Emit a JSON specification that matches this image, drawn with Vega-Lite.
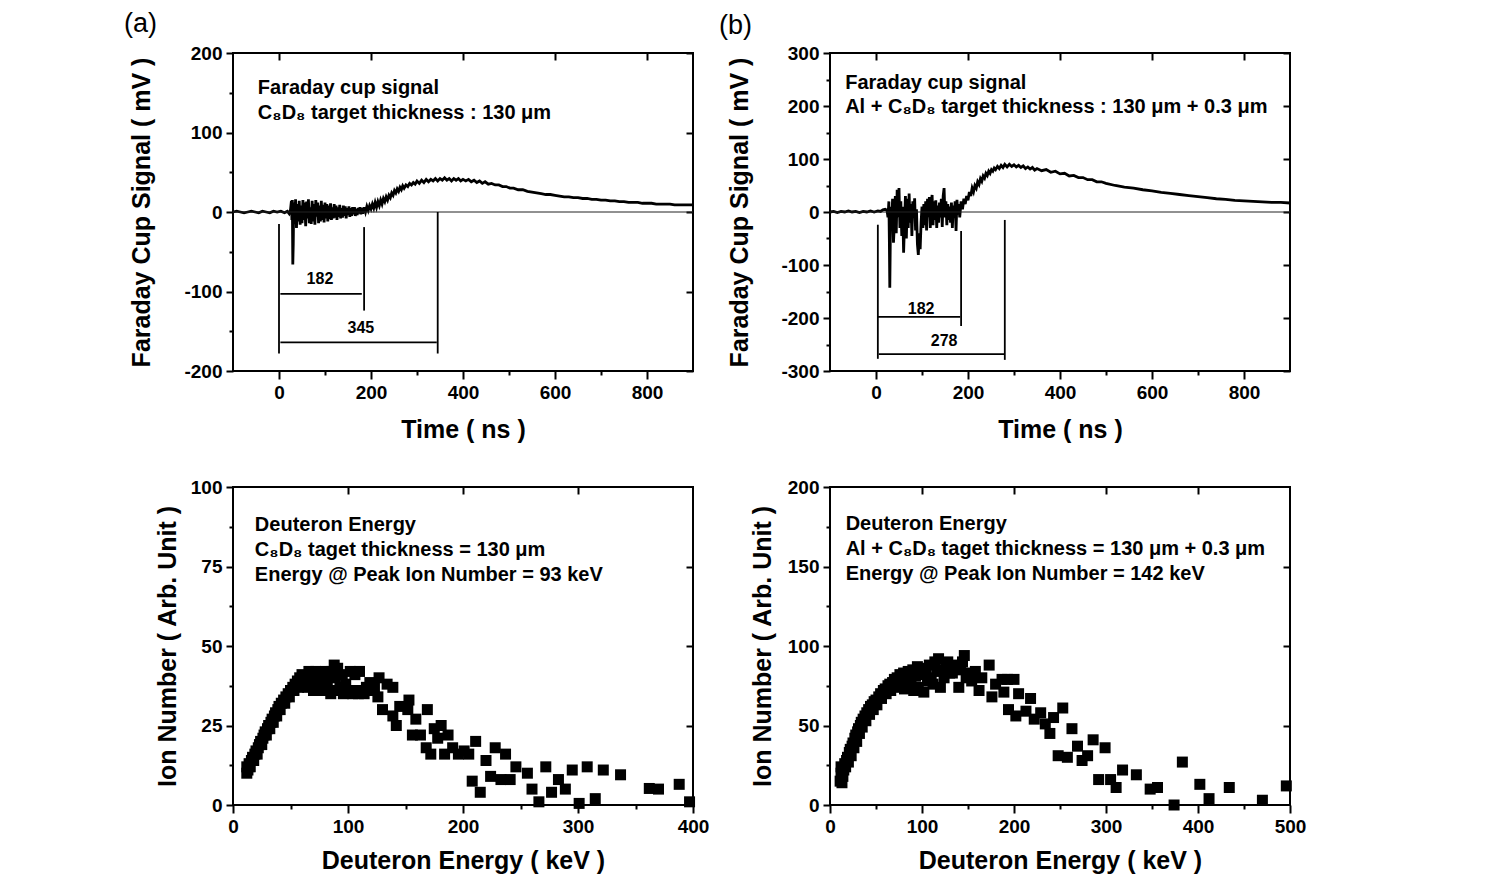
{
 "$schema": "https://vega.github.io/schema/vega-lite/v6.json",
 "padding": {"left": 123, "top": 9, "right": 5, "bottom": 5},
 "background": "white",
 "columns": 2,
 "spacing": {"row": 116, "column": 137},
 "bounds": "flush",
 "datasets": {
  "traceA": [
   {"t":-100,"v":0},{"t":-92,"v":1},{"t":-84,"v":0},{"t":-76,"v":-1},{"t":-68,"v":0},{"t":-60,"v":1},{"t":-52,"v":0},{"t":-44,"v":-1},{"t":-36,"v":1},{"t":-28,"v":0},{"t":-20,"v":-1},{"t":-12,"v":1},{"t":-4,"v":0},{"t":4,"v":1},{"t":12,"v":-1},{"t":18,"v":1},{"t":22,"v":-2},{"t":25,"v":3},{"t":27,"v":14},{"t":28,"v":-10},{"t":29,"v":15},{"t":30,"v":-66},{"t":31,"v":-40},{"t":32,"v":12},{"t":34,"v":-15},{"t":36,"v":16},{"t":38,"v":-20},{"t":40,"v":10},{"t":42,"v":-12},{"t":44,"v":14},{"t":46,"v":-16},{"t":48,"v":8},{"t":50,"v":-14},{"t":52,"v":15},{"t":54,"v":-10},{"t":56,"v":12},{"t":58,"v":-18},{"t":60,"v":13},{"t":62,"v":-8},{"t":64,"v":16},{"t":66,"v":-14},{"t":68,"v":6},{"t":70,"v":-15},{"t":72,"v":14},{"t":74,"v":-12},{"t":76,"v":10},{"t":78,"v":-16},{"t":80,"v":15},{"t":82,"v":-6},{"t":84,"v":12},{"t":86,"v":-14},{"t":88,"v":8},{"t":90,"v":-12},{"t":92,"v":14},{"t":94,"v":-10},{"t":96,"v":9},{"t":98,"v":-13},{"t":100,"v":12},{"t":102,"v":-8},{"t":104,"v":10},{"t":106,"v":-12},{"t":108,"v":8},{"t":110,"v":-9},{"t":112,"v":11},{"t":114,"v":-10},{"t":116,"v":6},{"t":118,"v":-8},{"t":120,"v":10},{"t":122,"v":-7},{"t":124,"v":8},{"t":126,"v":-10},{"t":128,"v":6},{"t":130,"v":-6},{"t":132,"v":9},{"t":134,"v":-8},{"t":136,"v":5},{"t":138,"v":-7},{"t":140,"v":8},{"t":142,"v":-5},{"t":144,"v":7},{"t":146,"v":-8},{"t":148,"v":5},{"t":150,"v":-4},{"t":152,"v":7},{"t":154,"v":-6},{"t":156,"v":5},{"t":158,"v":-5},{"t":160,"v":6},{"t":162,"v":-3},{"t":164,"v":6},{"t":166,"v":-5},{"t":168,"v":4},{"t":170,"v":-4},{"t":172,"v":5},{"t":174,"v":-2},{"t":176,"v":6},{"t":178,"v":-3},{"t":180,"v":5},{"t":182,"v":-2},{"t":185,"v":6},{"t":188,"v":0},{"t":191,"v":7},{"t":194,"v":2},{"t":197,"v":8},{"t":200,"v":4},{"t":203,"v":10},{"t":206,"v":5},{"t":209,"v":12},{"t":212,"v":6},{"t":215,"v":13},{"t":218,"v":8},{"t":221,"v":15},{"t":224,"v":10},{"t":227,"v":17},{"t":230,"v":13},{"t":233,"v":19},{"t":236,"v":15},{"t":239,"v":21},{"t":242,"v":18},{"t":245,"v":24},{"t":248,"v":21},{"t":251,"v":27},{"t":254,"v":24},{"t":257,"v":29},{"t":260,"v":26},{"t":263,"v":31},{"t":266,"v":28},{"t":269,"v":33},{"t":272,"v":30},{"t":276,"v":34},{"t":280,"v":32},{"t":284,"v":36},{"t":288,"v":34},{"t":292,"v":37},{"t":296,"v":35},{"t":300,"v":39},{"t":305,"v":36},{"t":310,"v":40},{"t":315,"v":37},{"t":320,"v":41},{"t":325,"v":38},{"t":330,"v":41},{"t":335,"v":39},{"t":340,"v":42},{"t":345,"v":39},{"t":350,"v":42},{"t":355,"v":40},{"t":360,"v":43},{"t":365,"v":40},{"t":370,"v":42},{"t":375,"v":39},{"t":380,"v":42},{"t":385,"v":40},{"t":390,"v":42},{"t":395,"v":39},{"t":400,"v":41},{"t":406,"v":39},{"t":412,"v":41},{"t":418,"v":38},{"t":424,"v":40},{"t":430,"v":37},{"t":436,"v":39},{"t":442,"v":36},{"t":448,"v":38},{"t":455,"v":35},{"t":462,"v":36},{"t":470,"v":34},{"t":478,"v":34},{"t":486,"v":32},{"t":494,"v":32},{"t":502,"v":30},{"t":510,"v":30},{"t":520,"v":28},{"t":530,"v":28},{"t":540,"v":26},{"t":550,"v":25},{"t":560,"v":24},{"t":570,"v":23},{"t":580,"v":22},{"t":590,"v":22},{"t":600,"v":21},{"t":610,"v":20},{"t":620,"v":19},{"t":630,"v":19},{"t":640,"v":18},{"t":650,"v":18},{"t":660,"v":17},{"t":670,"v":17},{"t":680,"v":16},{"t":690,"v":16},{"t":700,"v":15},{"t":710,"v":15},{"t":720,"v":14},{"t":730,"v":14},{"t":740,"v":13},{"t":750,"v":13},{"t":760,"v":12},{"t":770,"v":12},{"t":780,"v":12},{"t":790,"v":11},{"t":800,"v":11},{"t":810,"v":11},{"t":820,"v":10},{"t":830,"v":10},{"t":840,"v":10},{"t":850,"v":10},{"t":860,"v":9},{"t":870,"v":9},{"t":880,"v":9},{"t":890,"v":9},{"t":900,"v":9}
  ],
  "traceB": [
   {"t":-100,"v":0},{"t":-92,"v":1},{"t":-84,"v":-1},{"t":-76,"v":1},{"t":-68,"v":0},{"t":-60,"v":2},{"t":-52,"v":0},{"t":-44,"v":1},{"t":-36,"v":-1},{"t":-28,"v":1},{"t":-20,"v":0},{"t":-12,"v":2},{"t":-4,"v":0},{"t":4,"v":2},{"t":10,"v":1},{"t":15,"v":4},{"t":20,"v":5},{"t":24,"v":3},{"t":26,"v":-10},{"t":28,"v":20},{"t":29,"v":-50},{"t":30,"v":-143},{"t":31,"v":-60},{"t":32,"v":10},{"t":34,"v":-30},{"t":36,"v":25},{"t":38,"v":-58},{"t":40,"v":-20},{"t":42,"v":30},{"t":44,"v":-40},{"t":46,"v":42},{"t":48,"v":-10},{"t":50,"v":45},{"t":52,"v":-30},{"t":54,"v":20},{"t":56,"v":-45},{"t":58,"v":10},{"t":60,"v":-77},{"t":62,"v":-20},{"t":64,"v":30},{"t":66,"v":-50},{"t":68,"v":25},{"t":70,"v":-30},{"t":72,"v":35},{"t":74,"v":-20},{"t":76,"v":15},{"t":78,"v":-45},{"t":80,"v":20},{"t":82,"v":-10},{"t":84,"v":26},{"t":86,"v":-35},{"t":88,"v":5},{"t":90,"v":-60},{"t":92,"v":-81},{"t":94,"v":-40},{"t":96,"v":-70},{"t":98,"v":-20},{"t":100,"v":10},{"t":102,"v":-30},{"t":104,"v":15},{"t":106,"v":-25},{"t":108,"v":20},{"t":110,"v":-35},{"t":112,"v":25},{"t":114,"v":-10},{"t":116,"v":28},{"t":118,"v":-30},{"t":120,"v":18},{"t":122,"v":32},{"t":124,"v":-25},{"t":126,"v":20},{"t":128,"v":-15},{"t":130,"v":22},{"t":132,"v":-30},{"t":134,"v":12},{"t":136,"v":-20},{"t":138,"v":18},{"t":140,"v":-10},{"t":142,"v":25},{"t":144,"v":-28},{"t":146,"v":30},{"t":148,"v":45},{"t":150,"v":-10},{"t":152,"v":20},{"t":154,"v":-25},{"t":156,"v":15},{"t":158,"v":-15},{"t":160,"v":10},{"t":162,"v":-20},{"t":164,"v":18},{"t":166,"v":-30},{"t":168,"v":12},{"t":170,"v":-10},{"t":172,"v":20},{"t":174,"v":-36},{"t":176,"v":23},{"t":178,"v":-5},{"t":180,"v":15},{"t":182,"v":-10},{"t":185,"v":20},{"t":188,"v":5},{"t":191,"v":25},{"t":194,"v":15},{"t":197,"v":30},{"t":200,"v":22},{"t":203,"v":38},{"t":206,"v":30},{"t":209,"v":45},{"t":212,"v":38},{"t":215,"v":50},{"t":218,"v":45},{"t":221,"v":57},{"t":224,"v":52},{"t":227,"v":63},{"t":230,"v":58},{"t":233,"v":68},{"t":236,"v":64},{"t":239,"v":73},{"t":242,"v":69},{"t":245,"v":77},{"t":248,"v":73},{"t":251,"v":80},{"t":254,"v":77},{"t":257,"v":83},{"t":260,"v":80},{"t":264,"v":86},{"t":268,"v":82},{"t":272,"v":88},{"t":276,"v":84},{"t":280,"v":90},{"t":285,"v":85},{"t":290,"v":90},{"t":295,"v":86},{"t":300,"v":89},{"t":305,"v":85},{"t":310,"v":88},{"t":315,"v":84},{"t":320,"v":87},{"t":325,"v":82},{"t":330,"v":85},{"t":335,"v":81},{"t":340,"v":84},{"t":345,"v":79},{"t":350,"v":82},{"t":360,"v":78},{"t":370,"v":80},{"t":380,"v":75},{"t":390,"v":77},{"t":400,"v":72},{"t":410,"v":73},{"t":420,"v":68},{"t":430,"v":69},{"t":440,"v":65},{"t":450,"v":65},{"t":460,"v":61},{"t":470,"v":61},{"t":480,"v":57},{"t":490,"v":57},{"t":500,"v":54},{"t":520,"v":50},{"t":540,"v":47},{"t":560,"v":45},{"t":580,"v":42},{"t":600,"v":40},{"t":620,"v":37},{"t":640,"v":35},{"t":660,"v":33},{"t":680,"v":31},{"t":700,"v":29},{"t":720,"v":27},{"t":740,"v":25},{"t":760,"v":24},{"t":780,"v":22},{"t":800,"v":21},{"t":820,"v":20},{"t":840,"v":19},{"t":860,"v":18},{"t":880,"v":18},{"t":900,"v":17}
  ],
  "vbarA": [{"t":0,"v1":-15,"v2":-178},{"t":185,"v1":-19,"v2":-124},{"t":345,"v1":0,"v2":-178}],
  "hbarA": [{"t1":3,"t2":180,"v":-103},{"t1":3,"t2":343,"v":-164}],
  "labA": [{"t":89,"v":-84,"label":"182"},{"t":178,"v":-146,"label":"345"}],
  "vbarB": [{"t":4,"v1":-24,"v2":-277},{"t":185,"v1":-36,"v2":-215},{"t":280,"v1":-15,"v2":-279}],
  "hbarB": [{"t1":4,"t2":183,"v":-198},{"t1":6,"t2":279,"v":-268}],
  "labB": [{"t":98,"v":-183,"label":"182"},{"t":148,"v":-243,"label":"278"}],
  "scatA": [
   {"e":12,"n":10},{"e":12,"n":12},{"e":13,"n":11},{"e":14,"n":13},{"e":15,"n":12},{"e":16,"n":14},{"e":17,"n":15},{"e":18,"n":14},{"e":19,"n":16},{"e":20,"n":17},{"e":21,"n":16},{"e":22,"n":18},{"e":23,"n":19},{"e":24,"n":20},{"e":25,"n":19},{"e":26,"n":21},{"e":27,"n":22},{"e":28,"n":23},{"e":29,"n":22},{"e":30,"n":24},{"e":31,"n":25},{"e":32,"n":24},{"e":33,"n":26},{"e":34,"n":27},{"e":35,"n":26},{"e":36,"n":28},{"e":37,"n":29},{"e":38,"n":28},{"e":39,"n":30},{"e":40,"n":31},{"e":41,"n":30},{"e":42,"n":32},{"e":44,"n":33},{"e":45,"n":32},{"e":46,"n":34},{"e":48,"n":35},{"e":49,"n":34},{"e":50,"n":36},{"e":52,"n":37},{"e":53,"n":36},{"e":54,"n":38},{"e":56,"n":39},{"e":57,"n":37},{"e":58,"n":40},{"e":60,"n":41},{"e":61,"n":39},{"e":62,"n":38},{"e":64,"n":40},{"e":65,"n":37},{"e":66,"n":42},{"e":68,"n":41},{"e":69,"n":38},{"e":70,"n":36},{"e":72,"n":42},{"e":74,"n":40},{"e":75,"n":37},{"e":76,"n":36},{"e":78,"n":41},{"e":80,"n":42},{"e":82,"n":39},{"e":83,"n":36},{"e":85,"n":35},{"e":86,"n":42},{"e":88,"n":44},{"e":89,"n":40},{"e":90,"n":36},{"e":91,"n":43},{"e":93,"n":37},{"e":95,"n":41},{"e":96,"n":35},{"e":98,"n":38},{"e":100,"n":36},{"e":102,"n":42},{"e":104,"n":35},{"e":106,"n":41},{"e":107,"n":36},{"e":109,"n":35},{"e":110,"n":42},{"e":112,"n":36},{"e":114,"n":35},{"e":116,"n":37},{"e":119,"n":38.5},{"e":120,"n":36},{"e":123,"n":37},{"e":126,"n":34},{"e":127,"n":40},{"e":130,"n":30},{"e":134,"n":38},{"e":139,"n":37},{"e":139,"n":28},{"e":142,"n":25},{"e":145,"n":31},{"e":152,"n":30},{"e":153,"n":33},{"e":156,"n":22},{"e":159,"n":27},{"e":163,"n":22},{"e":168,"n":18},{"e":169,"n":30},{"e":172,"n":16},{"e":175,"n":24},{"e":178,"n":21},{"e":181,"n":25},{"e":184,"n":16},{"e":187,"n":22},{"e":191,"n":18},{"e":196,"n":16},{"e":201,"n":17},{"e":205,"n":16},{"e":208,"n":7.5},{"e":211,"n":20},{"e":215,"n":4},{"e":220,"n":14},{"e":224,"n":9},{"e":228,"n":18},{"e":233,"n":8},{"e":237,"n":16},{"e":241,"n":8},{"e":246,"n":12},{"e":256,"n":10},{"e":260,"n":5},{"e":266,"n":1},{"e":272,"n":12},{"e":277,"n":4},{"e":283,"n":8},{"e":289,"n":5},{"e":295,"n":11},{"e":301,"n":0.5},{"e":308,"n":12},{"e":315,"n":2},{"e":322,"n":11},{"e":337,"n":9.5},{"e":362,"n":5.2},{"e":370,"n":5},{"e":388,"n":6.5},{"e":397,"n":1}
  ],
  "scatB": [
   {"e":11,"n":15},{"e":12,"n":20},{"e":12,"n":24},{"e":13,"n":14},{"e":14,"n":18},{"e":15,"n":22},{"e":16,"n":26},{"e":17,"n":24},{"e":18,"n":28},{"e":19,"n":30},{"e":20,"n":27},{"e":21,"n":33},{"e":22,"n":35},{"e":23,"n":31},{"e":24,"n":37},{"e":25,"n":39},{"e":26,"n":36},{"e":27,"n":42},{"e":28,"n":44},{"e":29,"n":40},{"e":30,"n":46},{"e":31,"n":48},{"e":32,"n":45},{"e":33,"n":50},{"e":34,"n":52},{"e":35,"n":49},{"e":36,"n":54},{"e":38,"n":56},{"e":39,"n":53},{"e":40,"n":58},{"e":42,"n":60},{"e":43,"n":57},{"e":44,"n":62},{"e":46,"n":63},{"e":47,"n":60},{"e":48,"n":65},{"e":50,"n":66},{"e":51,"n":63},{"e":53,"n":68},{"e":55,"n":70},{"e":56,"n":67},{"e":58,"n":72},{"e":60,"n":73},{"e":61,"n":70},{"e":63,"n":75},{"e":65,"n":76},{"e":66,"n":72},{"e":68,"n":77},{"e":70,"n":79},{"e":71,"n":74},{"e":73,"n":80},{"e":75,"n":76},{"e":76,"n":82},{"e":78,"n":78},{"e":80,"n":83},{"e":81,"n":73},{"e":83,"n":80},{"e":85,"n":84},{"e":86,"n":75},{"e":88,"n":79},{"e":90,"n":85},{"e":91,"n":72},{"e":93,"n":81},{"e":95,"n":87},{"e":96,"n":74},{"e":98,"n":82},{"e":100,"n":86},{"e":102,"n":71},{"e":104,"n":84},{"e":106,"n":78},{"e":108,"n":88},{"e":110,"n":80},{"e":112,"n":76},{"e":114,"n":90},{"e":116,"n":84},{"e":118,"n":92},{"e":120,"n":74},{"e":122,"n":85},{"e":124,"n":80},{"e":126,"n":86},{"e":128,"n":90},{"e":130,"n":83},{"e":133,"n":83},{"e":136,"n":88},{"e":140,"n":74},{"e":142,"n":85},{"e":144,"n":90},{"e":146,"n":94},{"e":148,"n":80},{"e":151,"n":83},{"e":154,"n":78},{"e":158,"n":84},{"e":162,"n":72},{"e":165,"n":80},{"e":173,"n":88},{"e":176,"n":68},{"e":180,"n":76},{"e":187,"n":79},{"e":189,"n":71},{"e":193,"n":79},{"e":200,"n":79},{"e":205,"n":70},{"e":194,"n":60},{"e":202,"n":56},{"e":213,"n":59},{"e":218,"n":67},{"e":222,"n":54},{"e":229,"n":58},{"e":234,"n":51},{"e":239,"n":45},{"e":243,"n":55},{"e":253,"n":61},{"e":248,"n":31},{"e":258,"n":30},{"e":263,"n":48},{"e":269,"n":37},{"e":274,"n":28},{"e":280,"n":31},{"e":286,"n":41},{"e":299,"n":36},{"e":292,"n":16},{"e":305,"n":16},{"e":311,"n":11},{"e":318,"n":22},{"e":333,"n":19},{"e":348,"n":10},{"e":356,"n":11},{"e":374,"n":0},{"e":383,"n":27},{"e":402,"n":13},{"e":412,"n":4},{"e":434,"n":11},{"e":470,"n":3},{"e":496,"n":12}
  ]
 },
 "concat": [
  {
   "width": 460, "height": 318,
   "title": {"text": "(a)", "dx": -109, "offset": 6},
   "resolve": {"axis": {"x": "independent", "y": "independent"}},
   "layer": [
    {"data": {"name": "traceA"}, "mark": {"type": "line", "color": "black", "strokeWidth": 2.8},
     "encoding": {
      "x": {"field": "t", "type": "quantitative", "scale": {"domain": [-100, 900], "nice": false, "zero": false},
            "axis": {"orient": "bottom", "values": [0,100,200,300,400,500,600,700,800], "labelExpr": "datum.value % 200 === 0 ? '' + datum.value : ''", "tickSize": {"condition": {"test": "datum.value % 200 === 0", "value": 8}, "value": 4}, "labelPadding": 4, "title": "Time ( ns )", "titleY": 58, "titleBaseline": "middle"}},
      "y": {"field": "v", "type": "quantitative", "scale": {"domain": [-200, 200], "nice": false, "zero": false},
            "axis": {"orient": "left", "values": [-200,-150,-100,-50,0,50,100,150,200], "labelExpr": "datum.value % 100 === 0 ? '' + datum.value : ''", "tickSize": {"condition": {"test": "datum.value % 100 === 0", "value": 7}, "value": 4}, "labelPadding": 4, "title": "Faraday Cup Signal ( mV )", "titleX": -92, "titleBaseline": "middle"}}
     }},
    {"data": {"values": [{}]}, "mark": {"type": "rule", "color": "#222222", "strokeWidth": 1}, "encoding": {"y": {"datum": 0, "type": "quantitative", "axis": null}}},
    {"data": {"name": "vbarA"}, "mark": {"type": "rule", "color": "black", "strokeWidth": 1.8},
     "encoding": {"x": {"field": "t", "type": "quantitative", "axis": null}, "y": {"field": "v1", "type": "quantitative", "axis": null}, "y2": {"field": "v2"}}},
    {"data": {"name": "hbarA"}, "mark": {"type": "rule", "color": "black", "strokeWidth": 1.8},
     "encoding": {"x": {"field": "t1", "type": "quantitative", "axis": null}, "x2": {"field": "t2"}, "y": {"field": "v", "type": "quantitative", "axis": null}}},
    {"data": {"name": "labA"}, "mark": {"type": "text", "fontSize": 16, "fontWeight": "bold", "align": "center", "baseline": "middle", "color": "black"},
     "encoding": {"x": {"field": "t", "type": "quantitative", "axis": null}, "y": {"field": "v", "type": "quantitative", "axis": null}, "text": {"field": "label"}}},
    {"data": {"values": [{}]}, "mark": {"type": "text", "align": "left", "baseline": "alphabetic", "fontSize": 20, "fontWeight": "bold", "lineHeight": 25, "color": "black"},
     "encoding": {
      "x": {"datum": -46, "type": "quantitative", "axis": {"orient": "top", "values": [0,200,400,600,800], "labels": false, "title": null, "tickSize": -7}},
      "y": {"datum": 148, "type": "quantitative", "axis": {"orient": "right", "values": [-200,-100,0,100,200], "labels": false, "title": null, "tickSize": -7}},
      "text": {"value": ["Faraday cup signal", "C₈D₈ target thickness : 130 μm"]}
     }}
   ]
  },
  {
   "width": 460, "height": 318,
   "title": {"text": "(b)", "dx": -111, "offset": 4},
   "resolve": {"axis": {"x": "independent", "y": "independent"}},
   "layer": [
    {"data": {"name": "traceB"}, "mark": {"type": "line", "color": "black", "strokeWidth": 2.8},
     "encoding": {
      "x": {"field": "t", "type": "quantitative", "scale": {"domain": [-100, 900], "nice": false, "zero": false},
            "axis": {"orient": "bottom", "values": [0,100,200,300,400,500,600,700,800], "labelExpr": "datum.value % 200 === 0 ? '' + datum.value : ''", "tickSize": {"condition": {"test": "datum.value % 200 === 0", "value": 8}, "value": 4}, "labelPadding": 4, "title": "Time ( ns )", "titleY": 58, "titleBaseline": "middle"}},
      "y": {"field": "v", "type": "quantitative", "scale": {"domain": [-300, 300], "nice": false, "zero": false},
            "axis": {"orient": "left", "values": [-300,-250,-200,-150,-100,-50,0,50,100,150,200,250,300], "labelExpr": "datum.value % 100 === 0 ? '' + datum.value : ''", "tickSize": {"condition": {"test": "datum.value % 100 === 0", "value": 7}, "value": 4}, "labelPadding": 4, "title": "Faraday Cup Signal ( mV )", "titleX": -91, "titleBaseline": "middle"}}
     }},
    {"data": {"values": [{}]}, "mark": {"type": "rule", "color": "#222222", "strokeWidth": 1}, "encoding": {"y": {"datum": 0, "type": "quantitative", "axis": null}}},
    {"data": {"name": "vbarB"}, "mark": {"type": "rule", "color": "black", "strokeWidth": 1.8},
     "encoding": {"x": {"field": "t", "type": "quantitative", "axis": null}, "y": {"field": "v1", "type": "quantitative", "axis": null}, "y2": {"field": "v2"}}},
    {"data": {"name": "hbarB"}, "mark": {"type": "rule", "color": "black", "strokeWidth": 1.8},
     "encoding": {"x": {"field": "t1", "type": "quantitative", "axis": null}, "x2": {"field": "t2"}, "y": {"field": "v", "type": "quantitative", "axis": null}}},
    {"data": {"name": "labB"}, "mark": {"type": "text", "fontSize": 16, "fontWeight": "bold", "align": "center", "baseline": "middle", "color": "black"},
     "encoding": {"x": {"field": "t", "type": "quantitative", "axis": null}, "y": {"field": "v", "type": "quantitative", "axis": null}, "text": {"field": "label"}}},
    {"data": {"values": [{}]}, "mark": {"type": "text", "align": "left", "baseline": "alphabetic", "fontSize": 20, "fontWeight": "bold", "lineHeight": 24, "color": "black"},
     "encoding": {
      "x": {"datum": -67, "type": "quantitative", "axis": {"orient": "top", "values": [0,200,400,600,800], "labels": false, "title": null, "tickSize": -7}},
      "y": {"datum": 232, "type": "quantitative", "axis": {"orient": "right", "values": [-300,-200,-100,0,100,200,300], "labels": false, "title": null, "tickSize": -7}},
      "text": {"value": ["Faraday cup signal", "Al + C₈D₈ target thickness : 130 μm + 0.3 μm"]}
     }}
   ]
  },
  {
   "width": 460, "height": 318,
   "resolve": {"axis": {"x": "independent", "y": "independent"}},
   "layer": [
    {"data": {"name": "scatA"}, "mark": {"type": "point", "shape": "square", "filled": true, "color": "black", "opacity": 1, "size": 121},
     "encoding": {
      "x": {"field": "e", "type": "quantitative", "scale": {"domain": [0, 400], "nice": false, "zero": false},
            "axis": {"orient": "bottom", "values": [0,50,100,150,200,250,300,350,400], "labelExpr": "datum.value % 100 === 0 ? '' + datum.value : ''", "tickSize": {"condition": {"test": "datum.value % 100 === 0", "value": 8}, "value": 4}, "labelPadding": 4, "title": "Deuteron Energy ( keV )", "titleY": 55, "titleBaseline": "middle"}},
      "y": {"field": "n", "type": "quantitative", "scale": {"domain": [0, 100], "nice": false, "zero": false},
            "axis": {"orient": "left", "values": [0,12.5,25,37.5,50,62.5,75,87.5,100], "labelExpr": "datum.value % 25 === 0 ? '' + datum.value : ''", "tickSize": {"condition": {"test": "datum.value % 25 === 0", "value": 7}, "value": 4}, "labelPadding": 4, "title": "Ion Number ( Arb. Unit )", "titleX": -66, "titleBaseline": "middle"}}
     }},
    {"data": {"values": [{}]}, "mark": {"type": "text", "align": "left", "baseline": "alphabetic", "fontSize": 20, "fontWeight": "bold", "lineHeight": 25, "color": "black"},
     "encoding": {
      "x": {"datum": 19, "type": "quantitative", "axis": {"orient": "top", "values": [100,200,300], "labels": false, "title": null, "tickSize": -7}},
      "y": {"datum": 86.2, "type": "quantitative", "axis": {"orient": "right", "values": [25,50,75], "labels": false, "title": null, "tickSize": -7}},
      "text": {"value": ["Deuteron Energy", "C₈D₈ taget thickness = 130 μm", "Energy @ Peak Ion Number = 93 keV"]}
     }}
   ]
  },
  {
   "width": 460, "height": 318,
   "resolve": {"axis": {"x": "independent", "y": "independent"}},
   "layer": [
    {"data": {"name": "scatB"}, "mark": {"type": "point", "shape": "square", "filled": true, "color": "black", "opacity": 1, "size": 121},
     "encoding": {
      "x": {"field": "e", "type": "quantitative", "scale": {"domain": [0, 500], "nice": false, "zero": false},
            "axis": {"orient": "bottom", "values": [0,50,100,150,200,250,300,350,400,450,500], "labelExpr": "datum.value % 100 === 0 ? '' + datum.value : ''", "tickSize": {"condition": {"test": "datum.value % 100 === 0", "value": 8}, "value": 4}, "labelPadding": 4, "title": "Deuteron Energy ( keV )", "titleY": 55, "titleBaseline": "middle"}},
      "y": {"field": "n", "type": "quantitative", "scale": {"domain": [0, 200], "nice": false, "zero": false},
            "axis": {"orient": "left", "values": [0,25,50,75,100,125,150,175,200], "labelExpr": "datum.value % 50 === 0 ? '' + datum.value : ''", "tickSize": {"condition": {"test": "datum.value % 50 === 0", "value": 7}, "value": 4}, "labelPadding": 4, "title": "Ion Number ( Arb. Unit )", "titleX": -68, "titleBaseline": "middle"}}
     }},
    {"data": {"values": [{}]}, "mark": {"type": "text", "align": "left", "baseline": "alphabetic", "fontSize": 20, "fontWeight": "bold", "lineHeight": 25, "color": "black"},
     "encoding": {
      "x": {"datum": 17, "type": "quantitative", "axis": {"orient": "top", "values": [100,200,300,400], "labels": false, "title": null, "tickSize": -7}},
      "y": {"datum": 173, "type": "quantitative", "axis": {"orient": "right", "values": [50,100,150], "labels": false, "title": null, "tickSize": -7}},
      "text": {"value": ["Deuteron Energy", "Al + C₈D₈ taget thickness = 130 μm + 0.3 μm", "Energy @ Peak Ion Number = 142 keV"]}
     }}
   ]
  }
 ],
 "config": {
  "font": "Liberation Sans",
  "view": {"stroke": "black", "strokeWidth": 2},
  "axis": {"domain": false, "grid": false, "labelFont": "Liberation Sans", "labelFontSize": 19, "labelFontWeight": "bold", "labelColor": "black", "titleFont": "Liberation Sans", "titleFontSize": 25, "titleFontWeight": "bold", "titleColor": "black", "tickColor": "black", "tickWidth": 2, "labelOverlap": false, "labelFlush": false},
  "title": {"font": "Liberation Sans", "fontSize": 27, "fontWeight": "normal", "color": "black", "anchor": "start", "frame": "group"}
 }
}
